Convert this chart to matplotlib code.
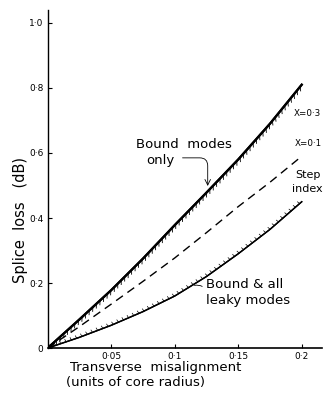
import numpy as np
import matplotlib
matplotlib.use('Agg')
import matplotlib.pyplot as plt
import matplotlib.patheffects as pe

plt.rcParams['font.family'] = 'DejaVu Sans'

# misalignment (units of core radius) and splice loss (dB)
misalign = [0.0, 0.025, 0.05, 0.075, 0.1, 0.125, 0.15, 0.175, 0.2]
loss_bound_only = [0.0, 0.088, 0.178, 0.275, 0.378, 0.478, 0.58, 0.69, 0.81]
loss_step_index = [0.0, 0.066, 0.135, 0.205, 0.277, 0.355, 0.435, 0.51, 0.59]
loss_bound_leaky = [0.0, 0.033, 0.07, 0.112, 0.16, 0.22, 0.29, 0.365, 0.45]

x_ticks = [0.05, 0.1, 0.15, 0.2]
x_tick_labels = ['0·05', '0·1', '0·15', '0·2']
y_ticks = [0.0, 0.2, 0.4, 0.6, 0.8, 1.0]
y_tick_labels = ['0', '0·2', '0·4', '0·6', '0·8', '1·0']

fig = plt.figure(figsize=(3.24, 3.96), dpi=100)
ax = fig.add_axes([0.147, 0.121, 0.847, 0.854])

# bound modes only - thick line with hatching underneath
ax.plot(misalign, loss_bound_only, color='black', lw=1.6,
        path_effects=[pe.withTickedStroke(angle=-135, length=0.9, spacing=3.5,
                                          linewidth=0.6),
                      pe.Normal()])
# step index - dashed
ax.plot(misalign, loss_step_index, color='black', lw=1.0, dashes=(6, 4))
# bound and all leaky modes - with small ticks on top
ax.plot(misalign, loss_bound_leaky, color='black', lw=1.0,
        path_effects=[pe.withTickedStroke(angle=100, length=0.5, spacing=4,
                                          linewidth=0.5),
                      pe.Normal()])

ax.set_xlim(0, 0.216)
ax.set_ylim(0, 1.04)
ax.set_xticks(x_ticks)
ax.set_xticklabels(x_tick_labels, fontsize=6.5)
ax.set_yticks(y_ticks)
ax.set_yticklabels(y_tick_labels, fontsize=6.5)
ax.tick_params(direction='in', length=3, width=0.8, pad=3)
ax.spines['top'].set_visible(False)
ax.spines['right'].set_visible(False)
ax.spines['left'].set_linewidth(1.0)
ax.spines['bottom'].set_linewidth(1.2)

fig.text(0.062, 0.444, 'Splice  loss   (dB)', fontsize=10.5, rotation=90,
         ha='center', va='center')
fig.text(0.215, 0.072, 'Transverse  misalignment', fontsize=9.5, ha='left', va='center')
fig.text(0.205, 0.033, '(units of core radius)', fontsize=9.5, ha='left', va='center')

# annotations
ax.text(0.107, 0.625, 'Bound  modes', fontsize=9.5, ha='center', va='center')
ax.text(0.089, 0.578, 'only', fontsize=9.5, ha='center', va='center')
ax.annotate('', xy=(0.126, 0.49), xytext=(0.104, 0.585),
            arrowprops=dict(arrowstyle='->', lw=0.6, color='black',
                            connectionstyle='angle,angleA=0,angleB=90,rad=8'))
ax.text(0.2155, 0.72, 'X=0·3', fontsize=6.3, ha='right', va='center')
ax.text(0.2155, 0.63, 'X=0·1', fontsize=6.3, ha='right', va='center')
ax.text(0.2045, 0.533, 'Step', fontsize=8, ha='center', va='center')
ax.text(0.2045, 0.49, 'index', fontsize=8, ha='center', va='center')
ax.text(0.1245, 0.194, 'Bound & all', fontsize=9.5, ha='left', va='center')
ax.text(0.1245, 0.146, 'leaky modes', fontsize=9.5, ha='left', va='center')
ax.annotate('', xy=(0.1135, 0.19), xytext=(0.1235, 0.185),
            arrowprops=dict(arrowstyle='-', lw=0.6, color='black',
                            connectionstyle='arc3,rad=0.3'))

fig.savefig('out.png', dpi=100)
